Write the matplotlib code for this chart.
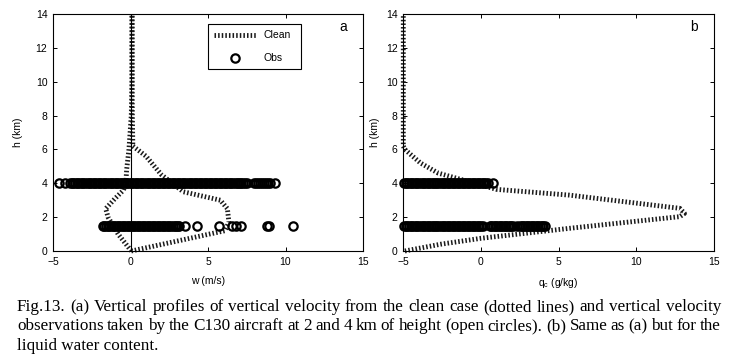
import matplotlib
matplotlib.use('Agg')
import matplotlib.pyplot as plt
from matplotlib.lines import Line2D

plt.rcParams['font.family'] = ['Liberation Sans', 'DejaVu Sans']
plt.rcParams['lines.scale_dashes'] = False

# ---------------- data ----------------
# panel a: clean case w profiles (two envelopes)
clean_a_right_h = [0.0, 1.2, 1.7, 2.5, 3.0, 3.5, 4.5, 5.6, 6.2, 8.0, 10.0, 12.0, 13.9]
clean_a_right_w = [0.05, 6.1, 6.35, 6.25, 5.8, 3.4, 2.0, 1.0, 0.15, 0.12, 0.1, 0.1, 0.1]
clean_a_left_h = [0.0, 1.0, 2.0, 2.5, 3.1, 3.6, 4.0, 4.8, 6.0, 8.0, 10.0, 12.0, 13.9]
clean_a_left_w = [0.05, -0.8, -1.45, -1.6, -1.0, -0.45, -0.3, -0.25, -0.1, 0.05, 0.1, 0.1, 0.1]

# panel a: observations of w at 4 km and 1.5 km
obs_a_hi_h = 4.0
obs_a_hi_w = [-4.60, -4.20,
              -3.90, -3.78, -3.69, -3.57, -3.46, -3.36, -3.25, -3.13, -3.04, -2.92,
              -2.81, -2.70, -2.60, -2.49, -2.37, -2.27, -2.16, -2.05, -1.94, -1.83,
              -1.72, -1.62, -1.50, -1.40, -1.29, -1.18, -1.07, -0.96, -0.85, -0.75,
              -0.63, -0.53, -0.42, -0.31, -0.20, -0.10, 0.02, 0.12, 0.23, 0.34,
              0.45, 0.55, 0.67, 0.77, 0.88, 0.99, 1.10, 1.21, 1.31, 1.43,
              1.53, 1.64, 1.75, 1.86, 1.96, 2.08, 2.18, 2.29, 2.40, 2.51,
              2.61, 2.73, 2.83, 2.94, 3.05, 3.16, 3.27, 3.37, 3.48, 3.59,
              3.70, 3.81, 3.91, 4.02, 4.13, 4.24, 4.34, 4.46, 4.56, 4.67,
              4.78, 4.89, 4.99, 5.11, 5.21, 5.32, 5.43, 5.54, 5.64, 5.75,
              5.86, 5.97, 6.08, 6.19, 6.29, 6.40, 6.51, 6.62, 6.72, 6.84,
              6.94, 7.05, 7.16, 7.27, 7.37, 7.50,
              7.95, 8.12, 8.25, 8.38, 8.50, 8.62, 8.75, 8.87, 9.00, 9.30]
obs_a_lo_h = 1.5
obs_a_lo_w = [-1.80, -1.69, -1.58, -1.47, -1.37, -1.26, -1.15, -1.04, -0.93, -0.83,
              -0.72, -0.61, -0.50, -0.40, -0.29, -0.18, -0.07, 0.04, 0.14, 0.25,
              0.36, 0.47, 0.57, 0.68, 0.79, 0.90, 1.01, 1.11, 1.22, 1.33,
              1.44, 1.54, 1.65, 1.76, 1.87, 1.97, 2.08, 2.19, 2.30, 2.41,
              2.51, 2.62, 2.73, 2.84, 2.94, 3.05, 3.15,
              3.50, 4.30, 5.70, 6.55, 6.80, 7.15, 8.80, 8.95, 10.50]

# panel b: clean case qc profile
clean_b_h = [0.0, 0.4, 0.75, 1.34, 2.03, 2.22, 2.52, 3.3, 3.64, 4.6, 5.2, 6.0, 6.2, 8.0, 10.0, 12.0, 13.9]
clean_b_q = [-4.9, -2.6, 0.0, 5.7, 12.8, 13.1, 12.8, 5.7, 1.0, -2.75, -3.9, -4.9, -5.0, -5.0, -5.0, -5.0, -5.0]

# panel b: observations of qc at 4 km and 1.5 km
obs_b_hi_h = 4.0
obs_b_hi_q = [-4.95, -4.84, -4.73, -4.62, -4.52, -4.41, -4.30, -4.19, -4.09, -3.98,
              -3.87, -3.76, -3.66, -3.55, -3.44, -3.33, -3.23, -3.12, -3.01, -2.90,
              -2.80, -2.69, -2.58, -2.47, -2.37, -2.26, -2.15, -2.04, -1.94, -1.83,
              -1.72, -1.61, -1.51, -1.40, -1.29, -1.18, -1.08, -0.97, -0.86, -0.75,
              -0.65, -0.54, -0.43, -0.32, -0.22, -0.11, 0.00, 0.10, 0.21, 0.32,
              0.45, 0.80]
obs_b_lo_h = 1.5
obs_b_lo_q = [-4.95, -4.84, -4.73, -4.62, -4.52, -4.41, -4.30, -4.19, -4.09, -3.98,
              -3.87, -3.76, -3.66, -3.55, -3.44, -3.33, -3.23, -3.12, -3.01, -2.90,
              -2.80, -2.69, -2.58, -2.47, -2.37, -2.26, -2.15, -2.04, -1.94, -1.83,
              -1.72, -1.61, -1.51, -1.40, -1.29, -1.18, -1.08, -0.97, -0.86, -0.75,
              -0.65, -0.54, -0.43, -0.32, -0.22, -0.11, 0.00, 0.12,
              0.55, 0.66, 0.77, 0.88, 0.99, 1.10, 1.20, 1.31, 1.42, 1.53,
              1.63, 1.74, 1.85, 1.96, 2.06,
              2.35, 2.50, 2.61, 2.72, 2.83, 2.94, 3.04, 3.15, 3.26, 3.37,
              3.47, 3.58, 3.69, 3.80, 3.90, 4.01, 4.15]

xticks = [-5, 0, 5, 10, 15]
yticks = [0, 2, 4, 6, 8, 10, 12, 14]

caption_lines = [
    "Fig.13. (a) Vertical profiles of vertical velocity from the clean case (dotted lines) and vertical velocity",
    "observations taken by the C130 aircraft at 2 and 4 km of height (open circles). (b) Same as (a) but for the",
    "liquid water content.",
]

# ---------------- style ----------------
W, H = 735, 359
fig = plt.figure(figsize=(W / 100, H / 100), dpi=100)
fig.patch.set_facecolor('white')

TFS = 7.5
clean_kw = dict(color='#1a1a1a', lw=3.5, dashes=(1.1, 1.5), clip_on=False, zorder=2)
obs_kw = dict(ls='none', marker='o', ms=6.0, mew=1.6, mfc='none', mec='black',
              clip_on=False, zorder=3)

def px_axes(l, r, t, b):
    return [l / W, 1 - b / H, (r - l) / W, (b - t) / H]

ax_a = fig.add_axes(px_axes(53, 363, 14, 251))
ax_b = fig.add_axes(px_axes(403.3, 714, 14, 251))

for ax in (ax_a, ax_b):
    ax.set_xlim(-5, 15)
    ax.set_ylim(0, 14)
    ax.set_xticks(xticks)
    ax.set_yticks(yticks)
    ax.tick_params(direction='in', length=3, width=0.7, top=True, right=True,
                   labelsize=TFS, pad=4)
    for s in ax.spines.values():
        s.set_linewidth(0.8)

# panel a
ax_a.plot(clean_a_right_w, clean_a_right_h, **clean_kw)
ax_a.plot(clean_a_left_w, clean_a_left_h, **clean_kw)
ax_a.axvline(0, color='black', lw=0.8, zorder=4)
ax_a.plot(obs_a_hi_w, [obs_a_hi_h] * len(obs_a_hi_w), **obs_kw)
ax_a.plot(obs_a_lo_w, [obs_a_lo_h] * len(obs_a_lo_w), **obs_kw)
ax_a.set_xlabel('w (m/s)', fontsize=TFS)
ax_a.set_ylabel('h (km)', fontsize=TFS)
ax_a.xaxis.set_label_coords(0.5, -0.105)
ax_a.yaxis.set_label_coords(-0.097, 0.5)
ax_a.text(0.935, 0.945, 'a', transform=ax_a.transAxes, fontsize=10,
          ha='center', va='center')

handles = [Line2D([], [], **{k: v for k, v in clean_kw.items() if k != 'clip_on'}),
           Line2D([], [], **{k: v for k, v in obs_kw.items() if k != 'clip_on'})]
leg = ax_a.legend(handles, ['Clean', 'Obs'], loc='upper left',
                  bbox_to_anchor=(0.5, 0.768, 0.30, 0.19), mode='expand',
                  borderaxespad=0, fontsize=TFS, handlelength=4.0,
                  handletextpad=0.7, borderpad=0.6, labelspacing=1.25,
                  fancybox=False, framealpha=1, edgecolor='black', numpoints=1)
leg.get_frame().set_linewidth(0.8)

# panel b
ax_b.plot(clean_b_q, clean_b_h, **clean_kw)
ax_b.plot(obs_b_hi_q, [obs_b_hi_h] * len(obs_b_hi_q), **obs_kw)
ax_b.plot(obs_b_lo_q, [obs_b_lo_h] * len(obs_b_lo_q), **obs_kw)
ax_b.set_xlabel(r'q$_\mathregular{c}$ (g/kg)', fontsize=TFS)
ax_b.set_ylabel('h (km)', fontsize=TFS)
ax_b.xaxis.set_label_coords(0.5, -0.105)
ax_b.yaxis.set_label_coords(-0.074, 0.5)
ax_b.text(0.935, 0.945, 'b', transform=ax_b.transAxes, fontsize=10,
          ha='center', va='center')

# ---------------- caption (justified) ----------------
serif = ['Liberation Serif', 'DejaVu Serif']
renderer = fig.canvas.get_renderer()
x0_px, x1_px = 17, 721
base_px = [311, 330.5, 350]

probe = fig.text(0, 0, caption_lines[0], fontsize=12, family=serif)
nat = probe.get_window_extent(renderer).width
probe.remove()
cfs = 12 * 0.985 * (x1_px - x0_px) / nat

for i, line in enumerate(caption_lines):
    y = 1 - base_px[i] / H
    if i == len(caption_lines) - 1:
        fig.text(x0_px / W, y, line, fontsize=cfs, family=serif, va='baseline')
        continue
    words = line.split(' ')
    objs = [fig.text(0, y, w, fontsize=cfs, family=serif, va='baseline', ha='left')
            for w in words]
    widths = [o.get_window_extent(renderer).width for o in objs]
    gap = ((x1_px - x0_px) - sum(widths)) / (len(words) - 1)
    x = x0_px
    for o, w in zip(objs, widths):
        o.set_x(x / W)
        x += w + gap

fig.savefig('out.png', dpi=100, facecolor='white')
